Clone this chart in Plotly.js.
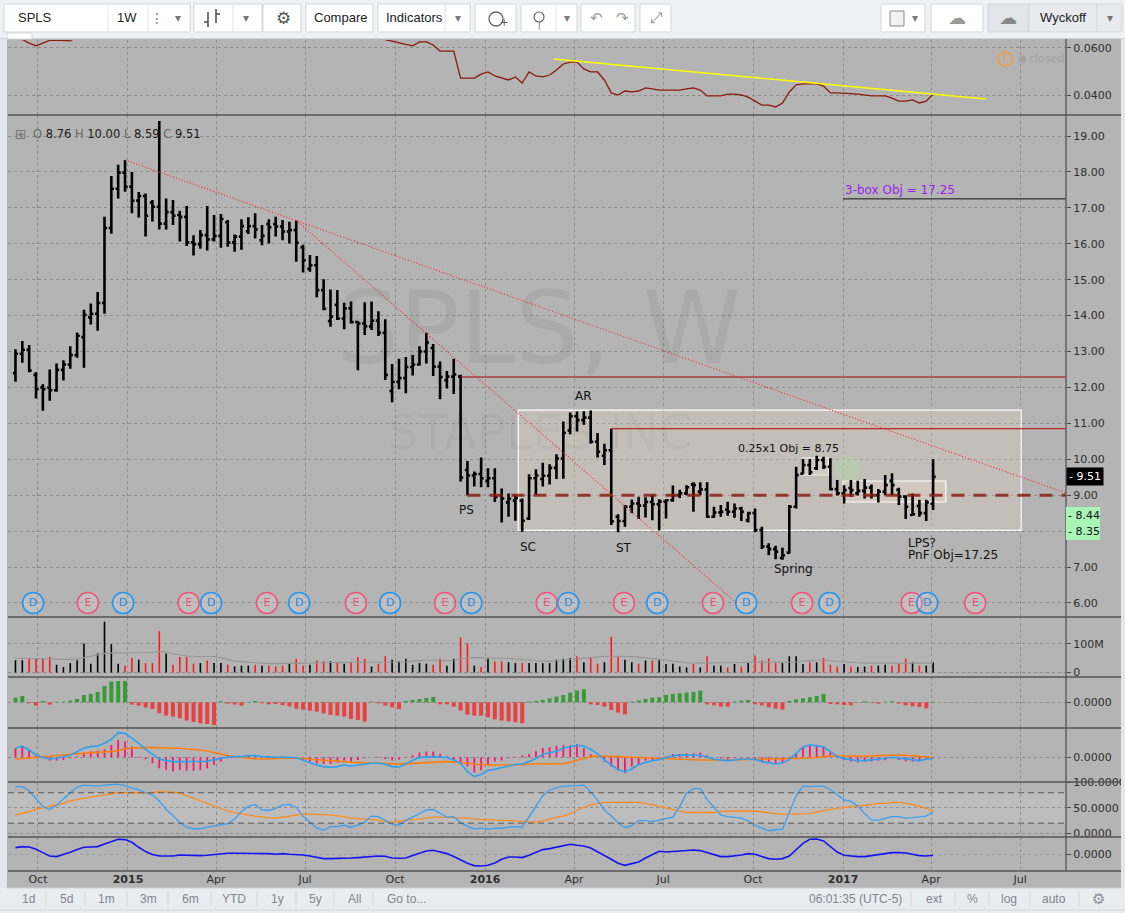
<!DOCTYPE html>
<html><head><meta charset="utf-8">
<script src="https://cdn.plot.ly/plotly-3.0.1.min.js"></script>
<style>html,body{margin:0;padding:0;background:#b4b4b4;overflow:hidden}#chart{width:1125px;height:913px}</style>
</head><body><div id="chart"></div>
<script>
// ---------------- DATA (weekly bars, SPLS) ----------------
const firstWeekUTC = [2014, 8, 8]; // first weekly bar: 2014-09-08
const openP = [12.40,12.94,13.05,12.35,12.00,12.00,11.92,12.49,12.64,12.90,
13.40,13.95,14.05,14.35,16.44,17.53,17.98,17.59,17.20,17.33,
17.15,17.03,16.56,16.88,16.80,16.75,16.04,15.99,16.24,16.12,
16.22,16.60,16.04,16.20,16.35,16.49,16.10,16.55,16.55,16.48,
16.34,16.38,15.90,15.30,15.40,14.71,13.85,14.30,13.92,14.20,
13.82,13.78,13.70,13.86,13.52,11.90,12.15,12.26,12.57,12.64,
13.00,13.10,12.58,12.20,12.30,12.30,9.70,9.55,9.59,9.40,
9.47,9.00,8.80,8.85,8.85,8.35,9.47,9.45,9.54,9.76,
10.02,10.80,11.20,11.09,11.16,10.49,10.10,10.25,8.40,8.28,
8.68,8.77,8.71,8.81,8.75,8.82,8.86,9.00,9.05,9.30,
9.10,9.16,8.40,8.52,8.60,8.54,8.63,8.30,8.50,8.03,
7.57,7.50,7.25,7.40,8.68,9.60,9.84,9.75,9.98,9.79,
9.17,9.05,9.20,9.05,9.12,9.21,9.00,9.10,9.40,9.15,
8.96,8.45,8.70,8.50,8.76];
const highP = [13.06,13.29,13.18,12.43,12.09,12.50,12.67,12.76,13.15,13.53,
14.16,14.34,14.66,16.75,17.89,18.20,18.33,18.00,17.44,17.40,
17.22,19.42,17.26,17.22,16.92,17.05,16.24,16.38,17.05,16.80,
16.83,16.66,16.26,16.68,16.74,16.85,16.52,16.68,16.75,16.66,
16.61,16.65,15.97,15.69,15.66,15.01,14.73,14.71,14.36,14.39,
13.85,14.37,14.39,14.12,13.90,12.65,12.80,12.85,12.90,13.15,
13.52,13.21,12.72,12.46,12.80,12.35,9.95,9.66,10.05,9.75,
9.75,9.19,9.05,9.02,8.91,9.58,9.72,9.90,9.86,10.14,
11.05,11.30,11.33,11.34,11.36,10.73,10.43,10.85,8.47,8.73,
8.88,8.96,8.94,9.02,8.89,8.89,9.27,9.15,9.28,9.36,
9.36,9.36,8.68,8.73,8.82,8.77,8.68,8.54,8.63,8.12,
7.66,7.59,7.54,8.73,9.79,10.01,10.01,10.10,10.07,10.03,
9.42,9.28,9.42,9.40,9.45,9.30,9.17,9.56,9.61,9.21,
9.00,9.05,8.87,8.87,10.00];
const lowP = [12.16,12.69,12.42,11.69,11.35,11.63,11.88,12.19,12.52,12.83,
12.55,13.75,13.58,14.05,16.28,17.26,17.45,16.85,16.73,16.20,
16.62,16.40,16.40,16.52,16.06,15.94,15.67,15.86,15.81,16.06,
15.89,15.92,15.78,15.83,16.27,16.15,15.96,16.01,16.20,16.10,
16.01,15.50,15.20,15.22,14.51,14.15,13.69,13.88,13.62,13.78,
12.48,13.46,13.60,13.43,12.21,11.59,11.95,11.84,12.33,12.61,
12.67,12.32,11.67,11.97,11.82,9.38,9.00,9.24,9.22,9.22,
8.81,8.24,8.40,8.29,7.98,8.31,9.01,9.24,9.30,9.45,
9.46,10.70,10.77,10.96,10.44,10.05,9.84,8.17,7.97,8.12,
8.50,8.34,8.38,8.30,8.02,8.35,8.82,8.92,9.00,8.54,
9.00,8.37,8.37,8.40,8.43,8.37,8.28,8.24,7.97,7.50,
7.33,7.22,7.20,7.38,8.63,9.58,9.56,9.70,9.73,9.14,
8.99,8.77,8.96,8.99,8.91,8.91,8.80,9.00,9.00,8.73,
8.34,8.43,8.40,8.28,8.59];
const closeP = [12.94,13.05,12.47,11.95,11.95,11.92,12.49,12.64,12.90,13.44,
14.02,14.05,14.35,16.44,17.53,17.98,17.59,17.20,17.33,16.78,
17.03,16.56,16.88,16.78,16.75,16.04,15.99,16.24,16.12,16.22,
16.69,16.04,16.20,16.49,16.49,16.40,16.22,16.46,16.48,16.34,
16.38,16.03,15.54,15.40,14.71,14.19,13.97,13.92,14.20,13.82,
13.78,13.70,13.86,13.52,12.35,12.15,12.26,12.57,12.64,13.00,
13.25,12.58,12.29,12.30,12.36,9.49,9.55,9.59,9.47,9.47,
8.95,8.91,8.90,8.92,8.29,9.47,9.55,9.54,9.76,10.02,
10.73,11.20,11.09,11.16,10.49,10.21,10.25,8.27,8.28,8.68,
8.77,8.71,8.81,8.75,8.82,8.86,9.00,9.05,9.22,9.28,
9.16,8.40,8.52,8.54,8.54,8.63,8.54,8.50,8.03,7.57,
7.50,7.43,7.33,8.68,9.56,9.84,9.64,9.98,9.79,9.17,
9.05,9.14,9.14,9.12,9.21,9.00,9.10,9.28,9.28,8.96,
8.68,8.47,8.50,8.80,9.51];
// volume in millions of shares
const volumeM = [43,43,48,48,48,55,27,19,33,43,
102,31,67,178,99,31,24,51,45,33,
33,145,67,27,54,54,31,33,42,33,
33,27,21,24,24,27,24,24,21,24,
31,48,24,27,42,39,39,36,31,36,
54,48,21,31,57,45,39,48,27,33,
31,27,48,24,48,123,102,24,19,48,
39,39,36,33,33,33,33,33,33,45,
48,51,57,36,54,31,36,125,54,45,
36,31,42,42,43,30,31,21,18,30,
18,57,24,24,18,30,21,33,60,42,
49,33,33,57,57,30,36,36,51,27,
21,30,21,19,21,24,24,27,24,31,
49,36,24,24,36];
const volumeMA = [50,50,50,49,48,48,47,46,46,47,
52,56,62,67,69,69,69,69,69,69,
70,74,72,66,62,58,57,57,57,56,
52,46,40,38,36,33,31,31,31,31,
31,32,32,33,34,35,36,36,36,36,
36,36,37,37,38,38,37,37,40,42,
43,43,42,42,43,48,51,52,52,51,
51,50,49,48,47,44,41,39,39,41,
44,46,48,50,53,56,57,57,57,57,
56,54,52,49,47,44,40,36,34,33,
33,33,33,33,34,35,35,36,36,36,
36,36,36,36,37,40,42,43,43,41,
38,36,35,34,33,33,33,33,33,33,
33,33,33,33,33];
// top pane comparison line
const ratioLine = [0.0645,0.0636,0.0621,0.0609,0.0621,0.0632,0.0634,0.0632,0.0630,0.0648,
0.0660,0.0675,0.0690,0.0720,0.0750,0.0760,0.0760,0.0750,0.0740,0.0740,
0.0730,0.0740,0.0730,0.0730,0.0720,0.0720,0.0710,0.0710,0.0720,0.0710,
0.0720,0.0710,0.0700,0.0710,0.0710,0.0700,0.0700,0.0700,0.0710,0.0700,
0.0700,0.0690,0.0690,0.0680,0.0680,0.0680,0.0670,0.0670,0.0670,0.0660,
0.0660,0.0655,0.0650,0.0645,
0.0636,0.0628,0.0621,0.0615,0.0609,0.0626,0.0626,0.0613,0.0587,0.0587,
0.0587,0.0472,0.0472,0.0472,0.0489,0.0498,0.0481,0.0472,0.0464,0.0477,
0.0451,0.0498,0.0481,0.0477,0.0485,0.0506,0.0532,0.0540,0.0540,0.0511,
0.0498,0.0498,0.0464,0.0409,0.0400,0.0417,0.0413,0.0417,0.0430,0.0426,
0.0421,0.0421,0.0421,0.0421,0.0426,0.0430,0.0421,0.0396,0.0396,0.0396,
0.0404,0.0404,0.0400,0.0391,0.0374,0.0357,0.0357,0.0349,0.0366,0.0413,
0.0443,0.0447,0.0447,0.0447,0.0438,0.0409,0.0409,0.0409,0.0406,0.0404,
0.0400,0.0396,0.0396,0.0396,0.0387,0.0374,0.0374,0.0379,0.0366,0.0374,0.0404];
// momentum histogram (green / red)
const momentum = [4.7,6.3,-1,-3.3,1.3,-2.3,0.5,0.7,1.7,3.3,
7.3,8.3,10.3,16.3,20.7,21.3,21.3,-2.3,-3.3,-5.3,
-6.7,-11,-13.3,-14.3,-16,-18.3,-19.7,-21,-21.7,-22.7,
1,-1.3,-2.3,-3.3,0.3,1.3,-1,-2,-1.7,-2.7,
-4,-6.3,-7.3,-8.3,-9.3,-11,-12.7,-13.3,-14.3,-16.7,
-17.7,-19.3,0.7,-1,-3.3,-5,-6.7,1.3,2.3,3.3,
4.3,5.3,-2,-2,-4.3,-8.3,-12.3,-13.3,-13.3,-15,
-17,-18.3,-19,-20,-21,0.7,1.3,2.3,4,5.7,
7.3,9.7,11.7,13,-2,-2.7,-4.3,-7.7,-10.3,-12,
0.7,1.7,3.3,4.7,5,7.3,8.3,9,9.7,10.3,
11.7,-2,-3,-4.3,-4.3,0.7,1.7,2.3,-2,-3,
-5,-6.3,-7.3,1.3,3,4,5,6.3,8.3,-1.7,
-2,-2.7,-3,0.3,1,-0.5,-1.3,0.5,1,-1.3,
-3,-4,-4.7,-6,0.3];
// MACD-style pane
const macdLine = [9,11.3,7.3,2.3,-0.3,-1.7,-1,0.7,2,5.7,
9,10.7,11.3,14,18,24.7,24,19,14,8,
2.7,-1.7,-3.3,-4.3,-4.3,-4.3,-4.7,-4.7,-4,-2.3,
-1,0.3,0.7,0.7,1.7,1.7,0.7,0,0,0,
0,-0.3,-3,-5.7,-7.7,-9.3,-10,-9.3,-7.7,-8.7,
-7.7,-6.7,-6,-6,-7,-9.3,-9.7,-6.7,-3,-0.3,
0.3,0.7,0.3,-0.3,-2.7,-6,-14.3,-19.3,-17.3,-13.3,
-12,-10,-8.7,-7,-6.7,-4.3,-1.3,3,4.3,6,
9.3,10.7,12,11,8,3.7,-2.7,-7.7,-12.3,-14.7,
-11.7,-7.3,-5,-3.3,-2.3,-0.3,1.7,2.3,2.3,2.3,
2,0.3,-2,-2.7,-3.3,-2.7,-1.7,-1.7,-2,-4.3,
-5.3,-6.7,-5.7,-2.3,4,10.3,12.3,11.7,10.3,6,
0.7,-1.3,-2.3,-3.3,-3.3,-2.7,-1.7,-1,0,-1,
-2,-2.7,-3.3,-2,-1];
const macdSignal = [-2,-1.3,-0.3,0.3,0.7,1,1.7,2,3,3.3,
4,4.7,5,5.3,5.7,7,8.7,9.3,9.7,9.7,
9.7,9.7,9.7,9.3,9,8.3,8,7.3,6.3,4.7,
3,1.7,0.7,-0.3,-1,-1.7,-1.7,-1.3,-1.3,-1,
-1,-1,-1,-2,-2.7,-3,-3.3,-4,-4.3,-5,
-5.3,-5.3,-5.3,-6,-6.3,-6.7,-6.7,-6.3,-6,-5.7,
-5.3,-5,-4.3,-4.3,-4.7,-5,-6,-6.7,-7.3,-7.7,
-7.7,-7.7,-7.7,-7.7,-7.3,-6.7,-6.7,-6.7,-6.3,-6,
-6.3,-5,-3.3,-1,0.7,1.3,1.3,1,0.7,0.3,
0,-0.3,-0.7,-1,-1.3,-1.7,-2,-2.3,-2.7,-2.7,
-2.7,-2.7,-3,-3.3,-3,-2.7,-2.3,-2,-1.7,-1.7,
-1.7,-1.7,-1.7,-1.7,-1.3,-1,-0.7,0.3,0.7,1.3,
1.3,1,0.7,0.7,0.7,1.3,1.7,2,2.3,2.3,
2,1.7,1,0.3,-0.3];
const macdHist = [9,11.3,7.3,1.3,0,-3.3,-3.3,-2.7,-1,0.7,
3.3,5.7,6.7,8,12.3,17.3,15.7,10.7,0.7,-2,
-6,-11,-12.7,-14.3,-12.7,-13.3,-13.3,-12.7,-11,-7.7,
-4.3,-1,0,0.7,2,1.7,1.3,0.5,0.5,0.5,
0.3,-1,-3,-4.3,-6,-6.7,-6.7,-5.3,-3.3,-4.3,
-2.7,-1,0,0.7,-1.7,-3.3,-2.3,-0.3,2,4.7,
5.7,5.7,3.3,1,-2.7,-5,-9,-15.3,-13,-8,
-4.3,-3.3,-1,0.7,1.7,3.3,6,9.3,10,11.3,
12,12,13.3,9,3.3,0,-4.3,-9.3,-13.3,-16,
-9.3,-6.7,-3.3,-2.7,-1,0.7,3.3,3.3,4,4,
4.7,2,0,-1,-2,-1,-1,-1,-2.7,-4.3,
-5.3,-6,-5.3,-1,3.3,10.7,12.3,11.3,10.7,5.7,
1,-2.7,-4.3,-5.3,-4.7,-4.3,-3.3,-3,-1,-2.7,
-4,-4.3,-4.3,-2.3,-0.7];
// stochastic pane
const stochK = [92,92,84,69,53,47,55,68,80,91,
95,94,93,95,96,97,94,89,86,80,
76,64,47,35,21,12,9,9,12,14,
16,19,28,43,53,57,46,45,49,56,
57,51,34,21,10,6,13,13,16,12,
16,22,34,33,25,18,16,25,32,39,
46,47,39,32,33,21,14,9,10,8,
10,10,12,13,12,33,53,74,85,90,
93,93,94,95,82,65,46,34,21,11,
15,25,25,23,26,28,32,53,79,88,
88,67,51,36,33,32,30,24,16,10,
5,7,8,41,74,93,92,93,93,86,
76,66,63,54,39,26,26,30,33,33,
30,31,33,34,42];
const stochD = [36,39,43,47,50,53,56,59,64,67,
69,72,74,76,79,80,80,80,80,80,
80,82,82,81,79,74,69,64,59,53,
48,44,41,38,36,34,32,31,30,32,
33,35,38,38,38,37,36,35,33,30,
29,28,28,26,23,22,24,26,27,28,
30,32,32,32,31,30,30,28,28,27,
26,26,25,24,23,22,22,24,28,32,
34,39,46,51,56,59,61,61,61,61,
61,61,59,56,53,49,46,43,41,41,
41,41,41,43,44,44,44,44,44,42,
40,39,38,38,38,39,39,42,45,47,
49,51,53,54,55,57,59,59,61,61,
59,57,53,49,43];
// bottom oscillator
const oscLine = [6.7,7.7,7.3,5,1.7,-1.7,-2.3,-0.3,2,4.7,
7,7.3,7.7,10.3,12.7,15,14.7,12,7,2.7,
-0.3,-1.7,-1.7,-1.7,-0.7,-1,-1,-1.3,-1,-0.3,
0.7,1,1,1,1,1,1,0.7,0,0.7,
0,-0.3,-0.7,-1.7,-3,-4.3,-4.3,-4.3,-4,-3.7,
-3.3,-2.7,-2,-1.7,-2,-3.7,-4,-3.7,-1.3,1,
3.3,4,2.7,0.7,-2.3,-5.7,-9,-11.3,-11.7,-11,
-8.7,-5,-2.7,-2.7,-3.3,-1,2,4.7,5.7,7.3,
8.7,10,9,8.3,6.3,2.7,-1,-5,-9,-11,
-9.3,-7.7,-3.7,0,3,2.3,2.7,3.3,4,4.3,
3.7,1.7,-0.7,-2.3,-2.3,-1.7,-0.7,0.7,0,-2.3,
-4.3,-5,-4.3,-1.7,4.3,11,15,15.3,13.3,7.7,
2.3,-1,-2,-2.3,-2.3,-1.3,0,1,1.7,1.7,
1.3,0,-1.3,-1.7,-1];
// dividend / earnings events
const eventDates = ['2014-09-26','2014-11-21','2014-12-27','2015-03-04','2015-03-27','2015-05-23','2015-06-25','2015-08-22','2015-09-26','2015-11-21','2015-12-18','2016-03-04','2016-03-26','2016-05-22','2016-06-25','2016-08-21','2016-09-24','2016-11-20','2016-12-18','2017-03-12','2017-03-28','2017-05-16'];
const eventTypes = ['D','E','D','E','D','E','D','E','D','E','D','E','D','E','D','E','D','E','D','E','D','E'];
const sideValues = [8.44, 8.35];
const priceTicks = [6,7,8,9,10,11,12,13,14,15,16,17,18,19];
const xTickDates = ['2014-10-01','2015-01-01','2015-04-01','2015-07-01','2015-10-01','2016-01-01','2016-04-01','2016-07-01','2016-10-01','2017-01-01','2017-04-01','2017-07-01'];
const xTickLabels = ['Oct','<b>2015</b>','Apr','Jul','Oct','<b>2016</b>','Apr','Jul','Oct','<b>2017</b>','Apr','Jul'];
// drawn levels / objects
const resistance1 = 12.29, resistance2 = 10.85, pnfTarget = 17.25, creekLevel = 9.0;

// ---------------- helpers ----------------
const N = closeP.length;
const weeks = [];
{ const t0 = Date.UTC(firstWeekUTC[0], firstWeekUTC[1], firstWeekUTC[2]);
  for (let i = 0; i < N; i++) weeks.push(new Date(t0 + i*7*86400000).toISOString().slice(0,10)); }
const FONT = 'DejaVu Sans, Verdana, sans-serif';
const UI = 'Liberation Sans, Arial, sans-serif';
const PL = 8, PR = 1066, PT = 40, PB = 871;
const px = x => (x - PL) / (PR - PL);
const py = y => (PB - y) / (PB - PT);
const dom = (t, b) => [py(b), py(t)];
const MSPX = 86400000 / 0.97919; // ms per pixel on the time axis
const xRange = ['2014-08-31 08:40', '2017-08-16 20:24'];
const xEnd = xRange[1];

// ---------------- traces ----------------
const traces = [];
traces.push({type:'scatter', mode:'lines', x:weeks, y:ratioLine, xaxis:'x', yaxis:'y',
  line:{color:'#8b1a0a', width:1.3}, hoverinfo:'skip'});
traces.push({type:'ohlc', x:weeks, open:openP, high:highP, low:lowP, close:closeP, xaxis:'x', yaxis:'y2',
  increasing:{line:{color:'#000', width:2.6}}, decreasing:{line:{color:'#000', width:2.6}},
  tickwidth:0.38, hoverinfo:'skip'});
traces.push({type:'scatter', mode:'markers+text', x:eventDates, y:eventDates.map(()=>6.0), xaxis:'x', yaxis:'y2',
  text:eventTypes, textposition:'middle center', cliponaxis:false,
  textfont:{family:FONT, size:11, color:eventTypes.map(t=>t==='D'?'#1e88e5':'#ef4f74')},
  marker:{symbol:'circle', size:21, color:'rgba(255,255,255,0.16)',
    line:{width:1.6, color:eventTypes.map(t=>t==='D'?'#2196f3':'#f2557a')}}, hoverinfo:'skip'});
traces.push({type:'bar', x:weeks, y:volumeM, xaxis:'x', yaxis:'y3', width:1.6*MSPX,
  marker:{color:closeP.map((c,i)=>c>=openP[i]?'#000':'#ff1a1a'), line:{width:0}}, hoverinfo:'skip'});
traces.push({type:'scatter', mode:'lines', x:weeks, y:volumeMA, xaxis:'x', yaxis:'y3',
  line:{color:'#959595', width:1.1}, hoverinfo:'skip'});
traces.push({type:'bar', x:weeks, y:momentum, xaxis:'x', yaxis:'y4', width:4*MSPX,
  marker:{color:momentum.map(v=>v>=0?'#3a9a3a':'#e84141'), line:{width:0}}, hoverinfo:'skip'});
traces.push({type:'bar', x:weeks, y:macdHist, xaxis:'x', yaxis:'y5', width:1.8*MSPX,
  marker:{color:'#ff1270', line:{width:0}}, hoverinfo:'skip'});
traces.push({type:'scatter', mode:'lines', x:weeks, y:macdSignal, xaxis:'x', yaxis:'y5',
  line:{color:'#ff7f0e', width:1.6}, hoverinfo:'skip'});
traces.push({type:'scatter', mode:'lines', x:weeks, y:macdLine, xaxis:'x', yaxis:'y5',
  line:{color:'#2f9ff0', width:1.6}, hoverinfo:'skip'});
traces.push({type:'scatter', mode:'lines', x:weeks, y:stochD, xaxis:'x', yaxis:'y6',
  line:{color:'#ff8a1e', width:1.3}, hoverinfo:'skip'});
traces.push({type:'scatter', mode:'lines', x:weeks, y:stochK, xaxis:'x', yaxis:'y6',
  line:{color:'#3aa0f5', width:1.3}, hoverinfo:'skip'});
traces.push({type:'scatter', mode:'lines', x:weeks, y:oscLine, xaxis:'x', yaxis:'y7',
  line:{color:'#1414f0', width:1.6}, hoverinfo:'skip'});

// ---------------- axes ----------------
const GRID = '#8c8c8c';
function yax(domain, range, vals, texts, extra) {
  return Object.assign({domain, range, side:'right', anchor:'x', tickmode:'array', tickvals:vals, ticktext:texts,
    showgrid:true, gridcolor:GRID, griddash:'3px,3px', gridwidth:1, zeroline:false, showline:false,
    ticks:'outside', ticklen:4, tickcolor:'#4a4a4a', tickfont:{family:FONT, size:11, color:'#2e2e2e'},
    fixedrange:true}, extra || {});
}

// ---------------- shapes ----------------
const shapes = [];
const line = (o) => shapes.push(Object.assign({type:'line'}, o));
const rect = (o) => shapes.push(Object.assign({type:'rect'}, o));
// stochastic band
rect({xref:'paper', yref:'y6', x0:0, x1:1, y0:20, y1:80, fillcolor:'rgba(255,255,255,0.13)', line:{width:0}, layer:'between'});
line({xref:'paper', yref:'y6', x0:0, x1:1, y0:80, y1:80, line:{color:'#5a5a5a', width:1, dash:'6px,4px'}});
line({xref:'paper', yref:'y6', x0:0, x1:1, y0:20, y1:20, line:{color:'#5a5a5a', width:1, dash:'6px,4px'}});
// trading range box and sub boxes
rect({xref:'x', yref:'y2', x0:'2016-02-04', x1:'2017-07-02', y0:8.02, y1:11.37,
  fillcolor:'rgba(235,215,195,0.28)', line:{color:'#ffffff', width:1.2}, layer:'between'});
rect({xref:'x', yref:'y2', x0:'2017-01-01', x1:'2017-04-16', y0:8.81, y1:9.395,
  fillcolor:'rgba(240,220,205,0.35)', line:{color:'#ffffff', width:1.2}, layer:'between'});
rect({xref:'x', yref:'y2', x0:'2016-11-20', x1:'2016-12-17', y0:9.56, y1:10.04,
  fillcolor:'rgba(240,225,210,0.35)', line:{color:'rgba(255,255,255,0.7)', width:1}, layer:'between'});
shapes.push({type:'circle', xref:'x', yref:'y2', x0:'2016-12-23', x1:'2017-01-19', y0:9.37, y1:10.09,
  fillcolor:'rgba(170,225,165,0.35)', line:{width:0}, layer:'between'});
// horizontal levels
line({xref:'x', yref:'y2', x0:weeks[65], x1:xEnd, y0:resistance1, y1:resistance1, line:{color:'#a00000', width:1}});
line({xref:'x', yref:'y2', x0:weeks[87], x1:xEnd, y0:resistance2, y1:resistance2, line:{color:'#b80000', width:1.1}});
line({xref:'x', yref:'y2', x0:'2017-01-01', x1:xEnd, y0:pnfTarget, y1:pnfTarget, line:{color:'#111', width:1}});
line({xref:'x', yref:'y2', x0:weeks[66], x1:xEnd, y0:creekLevel, y1:creekLevel, line:{color:'rgba(140,30,20,0.85)', width:3, dash:'13px,9px'}});
// trend lines
line({xref:'x', yref:'y2', x0:weeks[16], y0:highP[16], x1:xEnd, y1:9.06, line:{color:'#ff2a2a', width:1.2, dash:'1px,2px'}});
line({xref:'x', yref:'y2', x0:weeks[41], y0:highP[41], x1:'2016-09-14', y1:6.0, line:{color:'#ff2a2a', width:1.2, dash:'1px,2px'}});
// top pane trend line
line({xref:'x', yref:'y', x0:'2016-03-11', y0:0.0553, x1:'2017-05-27', y1:0.0383, line:{color:'#ffff00', width:1.6}});
// pane separators & axis border
[115, 617, 677, 728, 782, 837, 871].forEach(y => line({xref:'paper', yref:'paper', x0:px(8), x1:px(1121), y0:py(y), y1:py(y), line:{color:'#555', width:1.5}}));
line({xref:'paper', yref:'paper', x0:1, x1:1, y0:py(871), y1:py(38), line:{color:'#555', width:1.3}});
// outer chrome
rect({xref:'paper', yref:'paper', x0:px(0), x1:px(1125), y0:py(0), y1:py(38), fillcolor:'#f0f1f3', line:{width:0}});
rect({xref:'paper', yref:'paper', x0:px(0), x1:px(7), y0:py(38), y1:py(913), fillcolor:'#e3e6ea', line:{width:0}});
rect({xref:'paper', yref:'paper', x0:px(1121), x1:px(1125), y0:py(38), y1:py(913), fillcolor:'#e3e6ea', line:{width:0}});
rect({xref:'paper', yref:'paper', x0:px(0), x1:px(1125), y0:py(888), y1:py(913), fillcolor:'#e9ecf0', line:{width:0}});
line({xref:'paper', yref:'paper', x0:px(7), x1:px(1121), y0:py(888), y1:py(888), line:{color:'#cfd3d8', width:1}});
line({xref:'paper', yref:'paper', x0:px(0), x1:px(1125), y0:py(910), y1:py(910), line:{color:'#cfd3d8', width:1}});
line({xref:'paper', yref:'paper', x0:px(0), x1:px(1125), y0:py(38.5), y1:py(38.5), line:{color:'#cfd3d8', width:1}});
rect({xref:'paper', yref:'paper', x0:px(7), x1:px(32), y0:py(33), y1:py(39), fillcolor:'#ffffff', line:{color:'#d4d7db', width:1}});
// toolbar buttons
const btns = [[4,190,'#fff'],[194,262,'#fff'],[263,301,'#fff'],[306,373,'#fff'],[378,470,'#fff'],[475,516,'#fff'],[521,577,'#fff'],[581,635,'#fff'],[640,671,'#fff'],[881,925,'#fff'],[931,983,'#fff'],[988,1029,'#e2e4e7'],[1029,1097,'#e8eaed'],[1097,1122,'#e8eaed']];
btns.forEach(b => rect({xref:'paper', yref:'paper', x0:px(b[0]), x1:px(b[1]), y0:py(4), y1:py(32), fillcolor:b[2], line:{color:'#d2d5d9', width:1}}));
[108, 148, 233, 445, 556, 1097].forEach(x => line({xref:'paper', yref:'paper', x0:px(x), x1:px(x), y0:py(4), y1:py(32), line:{color:'#e1e3e6', width:1}}));
// bar-style icon
line({xref:'paper', yref:'paper', x0:px(208), x1:px(208), y0:py(12), y1:py(27), line:{color:'#555', width:1.6}});
line({xref:'paper', yref:'paper', x0:px(204), x1:px(208), y0:py(22), y1:py(22), line:{color:'#555', width:1.6}});
line({xref:'paper', yref:'paper', x0:px(216), x1:px(216), y0:py(9), y1:py(23), line:{color:'#555', width:1.6}});
line({xref:'paper', yref:'paper', x0:px(216), x1:px(220), y0:py(14), y1:py(14), line:{color:'#555', width:1.6}});
// alarm & bulb icons
shapes.push({type:'circle', xref:'paper', yref:'paper', x0:px(489), x1:px(503), y0:py(26), y1:py(12), line:{color:'#666', width:1.3}});
shapes.push({type:'circle', xref:'paper', yref:'paper', x0:px(534), x1:px(544), y0:py(22), y1:py(12), line:{color:'#666', width:1.2}});
// square icon
rect({xref:'paper', yref:'paper', x0:px(890), x1:px(904), y0:py(26), y1:py(11), fillcolor:'#f2f2f2', line:{color:'#8a8a8a', width:1}});
// bottom bar separators
[46,85,127,168,211,257,296,334,373,911,955,989,1030,1079].forEach(x => line({xref:'paper', yref:'paper', x0:px(x), x1:px(x), y0:py(892), y1:py(906), line:{color:'#d3d7dc', width:1}}));
// "closed" status icon
shapes.push({type:'circle', xref:'paper', yref:'paper', x0:px(998), x1:px(1012), y0:py(66), y1:py(52), line:{color:'#ff9a2e', width:1.4}});
// right-axis value labels background
rect({xref:'paper', yref:'paper', x0:1, x1:px(1100), y0:py(540), y1:py(507), fillcolor:'#a8f5b6', line:{width:0}});

// ---------------- annotations ----------------
const ann = [];
function A(x, y, text, o) { ann.push(Object.assign({xref:'paper', yref:'paper', x:px(x), y:py(y), text, showarrow:false,
  xanchor:'center', yanchor:'middle', font:{family:FONT, size:12, color:'#111'}}, o || {})); }
// watermark
A(538, 328, 'SPLS, W', {font:{family:FONT, size:100, color:'rgba(0,0,0,0.05)'}});
A(540, 432, 'STAPLES INC', {font:{family:FONT, size:48, color:'rgba(0,0,0,0.05)'}});
// Wyckoff labels
A(466, 510, 'PS'); A(528, 547, 'SC'); A(583, 396, 'AR'); A(624, 548, 'ST'); A(793, 569, 'Spring');
A(788, 448, '0.25x1 Obj = 8.75', {font:{family:FONT, size:11, color:'#111'}});
A(906, 543, 'LPS?', {xanchor:'left'});
A(906, 555, 'PnF Obj=17.25', {xanchor:'left'});
A(843, 190, '3-box Obj = 17.25', {xanchor:'left', font:{family:FONT, size:12, color:'#9b1fe8'}});
// OHLC legend
A(13, 134, '⊞', {xanchor:'left', font:{family:FONT, size:14, color:'#777'}});
const g = s => '<span style="color:#666">' + s + '</span>';
const last = N - 1;
A(31, 134, g('O') + ' ' + openP[last].toFixed(2) + ' ' + g('H') + ' ' + highP[last].toFixed(2) + ' ' + g('L') + ' ' + lowP[last].toFixed(2) + ' ' + g('C') + ' ' + closeP[last].toFixed(2),
  {xanchor:'left', font:{family:FONT, size:11.5, color:'#1a1a1a'}});
// right-axis value tags
ann.push({xref:'paper', yref:'y2', x:1, y:closeP[last], xanchor:'left', yanchor:'middle', showarrow:false,
  text:'- ' + closeP[last].toFixed(2), bgcolor:'#000', borderpad:2, font:{family:FONT, size:11, color:'#fff'}});
// stacked tags (the second one is pushed below the first, as the platform does)
sideValues.forEach((v, i) => ann.push({xref:'paper', yref:'y2', x:1, y:sideValues[0], yshift:-16*i, xanchor:'left', yanchor:'middle', showarrow:false,
  text:'- ' + v.toFixed(2), font:{family:FONT, size:11, color:'#111'}}));
// status
A(1005, 59, '!', {font:{family:FONT, size:10, color:'#ff9a2e'}});
A(1023, 59, '●', {font:{family:FONT, size:10, color:'#a2a2a2'}});
A(1046, 59, 'closed', {font:{family:FONT, size:11, color:'#a2a2a2'}});
// toolbar text
const tb = (x, t, o) => A(x, 18, t, Object.assign({font:{family:UI, size:13, color:'#222'}}, o || {}));
tb(16, 'SPLS', {xanchor:'left'}); tb(127, '1W');
tb(157, '⋮', {font:{family:FONT, size:14, color:'#777'}});
[178, 246, 458, 567, 915, 1110].forEach(x => tb(x, '▾', {font:{family:FONT, size:12, color:'#777'}}));
tb(283, '⚙', {font:{family:FONT, size:17, color:'#555'}});
tb(340, 'Compare'); tb(414, 'Indicators');
tb(500, '+', {font:{family:FONT, size:10, color:'#555'}, xshift:4, yshift:-5});
tb(539, '|', {font:{family:FONT, size:8, color:'#666'}, yshift:-8});
tb(596, '↶', {font:{family:FONT, size:15, color:'#999'}});
tb(622, '↷', {font:{family:FONT, size:15, color:'#999'}});
tb(656, '⤢', {font:{family:FONT, size:15, color:'#999'}});
tb(957, '☁', {font:{family:FONT, size:18, color:'#999'}});
tb(1008, '☁', {font:{family:FONT, size:18, color:'#888'}});
tb(1063, 'Wyckoff');
// bottom bar
const bb = (x, t, o) => A(x, 899, t, Object.assign({font:{family:UI, size:12, color:'#7f8690'}}, o || {}));
[[28,'1d'],[66,'5d'],[106,'1m'],[148,'3m'],[190,'6m'],[234,'YTD'],[277,'1y'],[315,'5y'],[354,'All'],[406,'Go to...'],
 [855,'06:01:35 (UTC-5)'],[934,'ext'],[972,'%'],[1009,'log'],[1054,'auto']].forEach(b => bb(b[0], b[1]));
bb(1098, '⚙', {font:{family:FONT, size:15, color:'#8a8f98'}});

// ---------------- layout ----------------
// the 8.00 label sits under the value tags in the reference, so its text is left empty
const priceTickText = priceTicks.map(v => v === 8 ? '' : v.toFixed(2));
const layout = {
  width:1125, height:913, autosize:false,
  margin:{l:PL, r:1125-PR, t:PT, b:913-PB, pad:0},
  paper_bgcolor:'#b4b4b4', plot_bgcolor:'#b4b4b4',
  showlegend:false, hovermode:false, dragmode:false, barmode:'overlay',
  font:{family:FONT, size:11, color:'#2e2e2e'},
  xaxis:{type:'date', range:xRange, anchor:'y7', tickmode:'array', tickvals:xTickDates, ticktext:xTickLabels,
    showgrid:true, gridcolor:GRID, griddash:'3px,3px', gridwidth:1, zeroline:false, showline:false, ticks:'',
    tickfont:{family:FONT, size:11, color:'#2e2e2e'}, rangeslider:{visible:false}, fixedrange:true},
  yaxis: yax(dom(40,115), [0.03149, 0.06340], [0.04, 0.06], ['0.0400','0.0600']),
  yaxis2: yax(dom(115,617), [5.609, 19.585], priceTicks, priceTickText),
  yaxis3: yax(dom(617,677), [-15.8, 194.7], [0, 100], ['0','100M']),
  yaxis4: yax(dom(677,728), [-25.7, 25.3], [0], ['0.0000']),
  yaxis5: yax(dom(728,782), [-24.7, 29.3], [0], ['0.0000']),
  yaxis6: yax(dom(782,837), [-7.3, 101.2], [0, 50, 100], ['0.0000','50.0000','100.0000']),
  yaxis7: yax(dom(837,871), [-16.7, 17.3], [0], ['0.0000'], {gridcolor:'#a0a0a0'}),
  shapes, annotations:ann
};
Plotly.newPlot('chart', traces, layout, {staticPlot:true, displayModeBar:false, responsive:false});
</script>
</body></html>
